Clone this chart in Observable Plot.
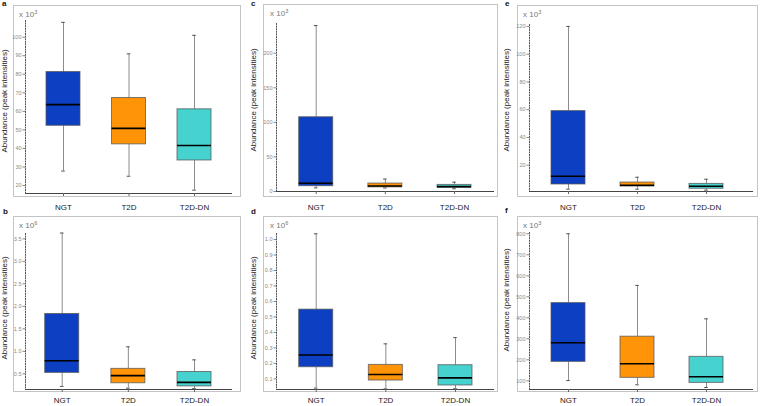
<!DOCTYPE html>
<html><head><meta charset="utf-8">
<script src="https://cdn.jsdelivr.net/npm/d3@7"></script>
<script src="https://cdn.jsdelivr.net/npm/@observablehq/plot@0.6"></script>
<style>
body{margin:0;background:#fff;font-family:"Liberation Sans",Arial,sans-serif;}
#root{position:relative;width:760px;height:406px;overflow:hidden;background:#fff;}
.frame{position:absolute;border:1px solid #c4c4c4;box-sizing:border-box;}
.abs{position:absolute;white-space:nowrap;line-height:1;}
.exp{font-size:8px;color:#777;}
.exp sup{font-size:5.5px;vertical-align:top;position:relative;top:-1px;}
.ttl{font-size:8px;color:#222;transform:translate(-50%,-50%) rotate(-90deg);}
.let{font-size:8px;font-weight:bold;color:#111;}
svg{position:absolute;overflow:visible;}
</style></head><body><div id="root"></div>
<script>
const categories = ["NGT", "T2D", "T2D-DN"];
const colors = ["#0d3fc2", "#ff9408", "#46d2cf"];

// panel a (x 10^3)
const aMin = [27.8, 25.0, 17.5];
const aQ1  = [52.2, 42.2, 33.5];
const aMed = [63.6, 50.8, 41.6];
const aQ3  = [81.2, 67.2, 61.1];
const aMax = [108, 91, 101];
const aTicks = [20, 30, 40, 50, 60, 70, 80, 90, 100];

// panel b (x 10^6)
const bMin = [0.22, 0.18, 0.17];
const bQ1  = [0.52, 0.29, 0.22];
const bMed = [0.79, 0.46, 0.31];
const bQ3  = [1.83, 0.61, 0.54];
const bMax = [3.63, 1.10, 0.81];
const bTicks = [0.5, 1.0, 1.5, 2.0, 2.5, 3.0, 3.5];

// panel c (x 10^3)
const cMin = [5.3, 5.0, 4.0];
const cQ1  = [7.7, 6.0, 5.5];
const cMed = [12, 8, 7];
const cQ3  = [107.4, 11.5, 9.5];
const cMax = [240, 18, 13.5];
const cTicks = [0, 50, 100, 150, 200];

// panel d (x 10^6)
const dMin = [0.040, 0.035, 0.036];
const dQ1  = [0.175, 0.089, 0.057];
const dMed = [0.254, 0.128, 0.106];
const dQ3  = [0.547, 0.190, 0.188];
const dMax = [1.037, 0.326, 0.366];
const dTicks = [0.1, 0.2, 0.3, 0.4, 0.5, 0.6, 0.7, 0.8, 0.9, 1.0];

// panel e (x 10^3)
const eMin = [2.7, 2.7, 2.0];
const eQ1  = [6.1, 4.6, 3.0];
const eMed = [12, 5.5, 4.8];
const eQ3  = [59, 7.5, 6.5];
const eMax = [120, 11.3, 9.9];
const eTicks = [20, 40, 60, 80, 100, 120];

// panel f (x 10^3)
const fMin = [101, 81, 68];
const fQ1  = [190, 114, 90];
const fMed = [281, 181, 119];
const fQ3  = [470, 310, 214];
const fMax = [800, 554, 395];
const fTicks = [100, 200, 300, 400, 500, 600, 700, 800];

const yTitle = "Abundance (peak intensities)";

const panels = [
  {letter:"a", exp:"3", stats:[aMin,aQ1,aMed,aQ3,aMax], ticks:aTicks, fmt:d3.format("d"),
   g:{left:13, top:5, right:241, bottom:197, axisX:25, axisBottom:193, axisTop:20, c0:63, c2:194, xEnd:231, domain:[15.69,109.0], ty:101, tx:5, lx:2, ly:0, pad:8}},
  {letter:"b", exp:"6", stats:[bMin,bQ1,bMed,bQ3,bMax], ticks:bTicks, fmt:d3.format(".1f"),
   g:{left:13, top:216, right:241, bottom:392, axisX:25, axisBottom:389, axisTop:233, c0:61.7, c2:194, xEnd:231, domain:[0.151,3.62], ty:308, tx:5, lx:3, ly:208, pad:4.5}},
  {letter:"c", exp:"3", stats:[cMin,cQ1,cMed,cQ3,cMax], ticks:cTicks, fmt:d3.format("d"),
   g:{left:263, top:4, right:498, bottom:197, axisX:276, axisBottom:191, axisTop:23, c0:315.7, c2:454, xEnd:493, domain:[0,243], ty:100, tx:254, lx:251, ly:0, pad:10}},
  {letter:"d", exp:"6", stats:[dMin,dQ1,dMed,dQ3,dMax], ticks:dTicks, fmt:d3.format(".1f"),
   g:{left:263, top:216, right:498, bottom:392, axisX:276, axisBottom:389, axisTop:233, c0:315.7, c2:455, xEnd:493, domain:[0.031,1.039], ty:308, tx:254, lx:251, ly:208, pad:4.5}},
  {letter:"e", exp:"3", stats:[eMin,eQ1,eMed,eQ3,eMax], ticks:eTicks, fmt:d3.format("d"),
   g:{left:517, top:5, right:758, bottom:197, axisX:529, axisBottom:191, axisTop:24, c0:568, c2:706, xEnd:752, domain:[1.04,121.4], ty:100, tx:507, lx:505, ly:0, pad:10}},
  {letter:"f", exp:"3", stats:[fMin,fQ1,fMed,fQ3,fMax], ticks:fTicks, fmt:d3.format("d"),
   g:{left:517, top:216, right:758, bottom:392, axisX:529, axisBottom:389, axisTop:232, c0:568, c2:706, xEnd:752, domain:[58.6,806], ty:300, tx:507, lx:505, ly:207, pad:4.5}}
];

const root = document.getElementById("root");
function addDiv(cls, x, y, html, extra){
  const d = document.createElement("div");
  d.className = cls; d.style.left = x + "px"; d.style.top = y + "px";
  d.innerHTML = html; if (extra) Object.assign(d.style, extra);
  root.appendChild(d); return d;
}

for (const p of panels) {
  const g = p.g;
  const fr = addDiv("frame", g.left, g.top, "");
  fr.style.width = (g.right - g.left) + "px";
  fr.style.height = (g.bottom - g.top) + "px";

  const [mn, q1, md, q3, mx] = p.stats;
  const data = categories.map((c, i) => ({i, cat:c, min:mn[i], q1:q1[i], med:md[i], q3:q3[i], max:mx[i], color:colors[i]}));
  const W = g.right - g.left, H = g.bottom - g.top + 18;
  const unitPx = (g.c2 - g.c0) / 2;
  const hw = 17 / unitPx, cw = 1.8 / unitPx;
  const chart = Plot.plot({
    width: W, height: H,
    marginLeft: g.axisX - g.left, marginRight: g.right - g.xEnd,
    marginTop: g.axisTop - g.top, marginBottom: H - (g.axisBottom - g.top),
    x: {type:"linear", domain:[0, 2], range:[g.c0 - g.left, g.c2 - g.left]},
    y: {domain: g.domain},
    color: {type:"identity"},
    style: {fontFamily:"'Liberation Sans', Arial, sans-serif", background:"transparent", overflow:"visible"},
    marks: [
      Plot.frame({anchor:"left", stroke:"#555", strokeDasharray:"1,1.6"}),
      Plot.frame({anchor:"bottom", stroke:"#444", strokeWidth:1}),
      Plot.axisY({ticks:p.ticks, tickFormat:p.fmt, tickSize:2.5, tickPadding:1.5, fontSize:5.5, color:"#888", label:null}),
      Plot.axisX({ticks:[0,1,2], tickFormat:i => categories[i], tickSize:3, tickPadding:g.pad, fontSize:8, color:"#222", stroke:"#666", label:null}),
      Plot.ruleX(data, {x:"i", y1:"min", y2:"q1", stroke:"#8c8c8c", strokeWidth:1}),
      Plot.ruleX(data, {x:"i", y1:"q3", y2:"max", stroke:"#8c8c8c", strokeWidth:1}),
      Plot.ruleY(data, {y:"max", x1:d => d.i - cw, x2:d => d.i + cw, stroke:"#555", strokeWidth:1}),
      Plot.ruleY(data, {y:"min", x1:d => d.i - cw, x2:d => d.i + cw, stroke:"#555", strokeWidth:1}),
      Plot.rect(data, {x1:d => d.i - hw, x2:d => d.i + hw, y1:"q1", y2:"q3", fill:"color", stroke:"#555", strokeOpacity:0.75, strokeWidth:1}),
      Plot.ruleY(data, {y:"med", x1:d => d.i - hw, x2:d => d.i + hw, stroke:"#000", strokeWidth:1.6})
    ]
  });
  chart.style.left = g.left + "px";
  chart.style.top = g.top + "px";
  root.appendChild(chart);

  addDiv("abs exp", g.axisX - 6, g.top + 6, "x 10<sup>" + p.exp + "</sup>");
  addDiv("abs ttl", g.tx, g.ty, yTitle);
  addDiv("abs let", g.lx, g.ly, p.letter);
}
</script></body></html>
